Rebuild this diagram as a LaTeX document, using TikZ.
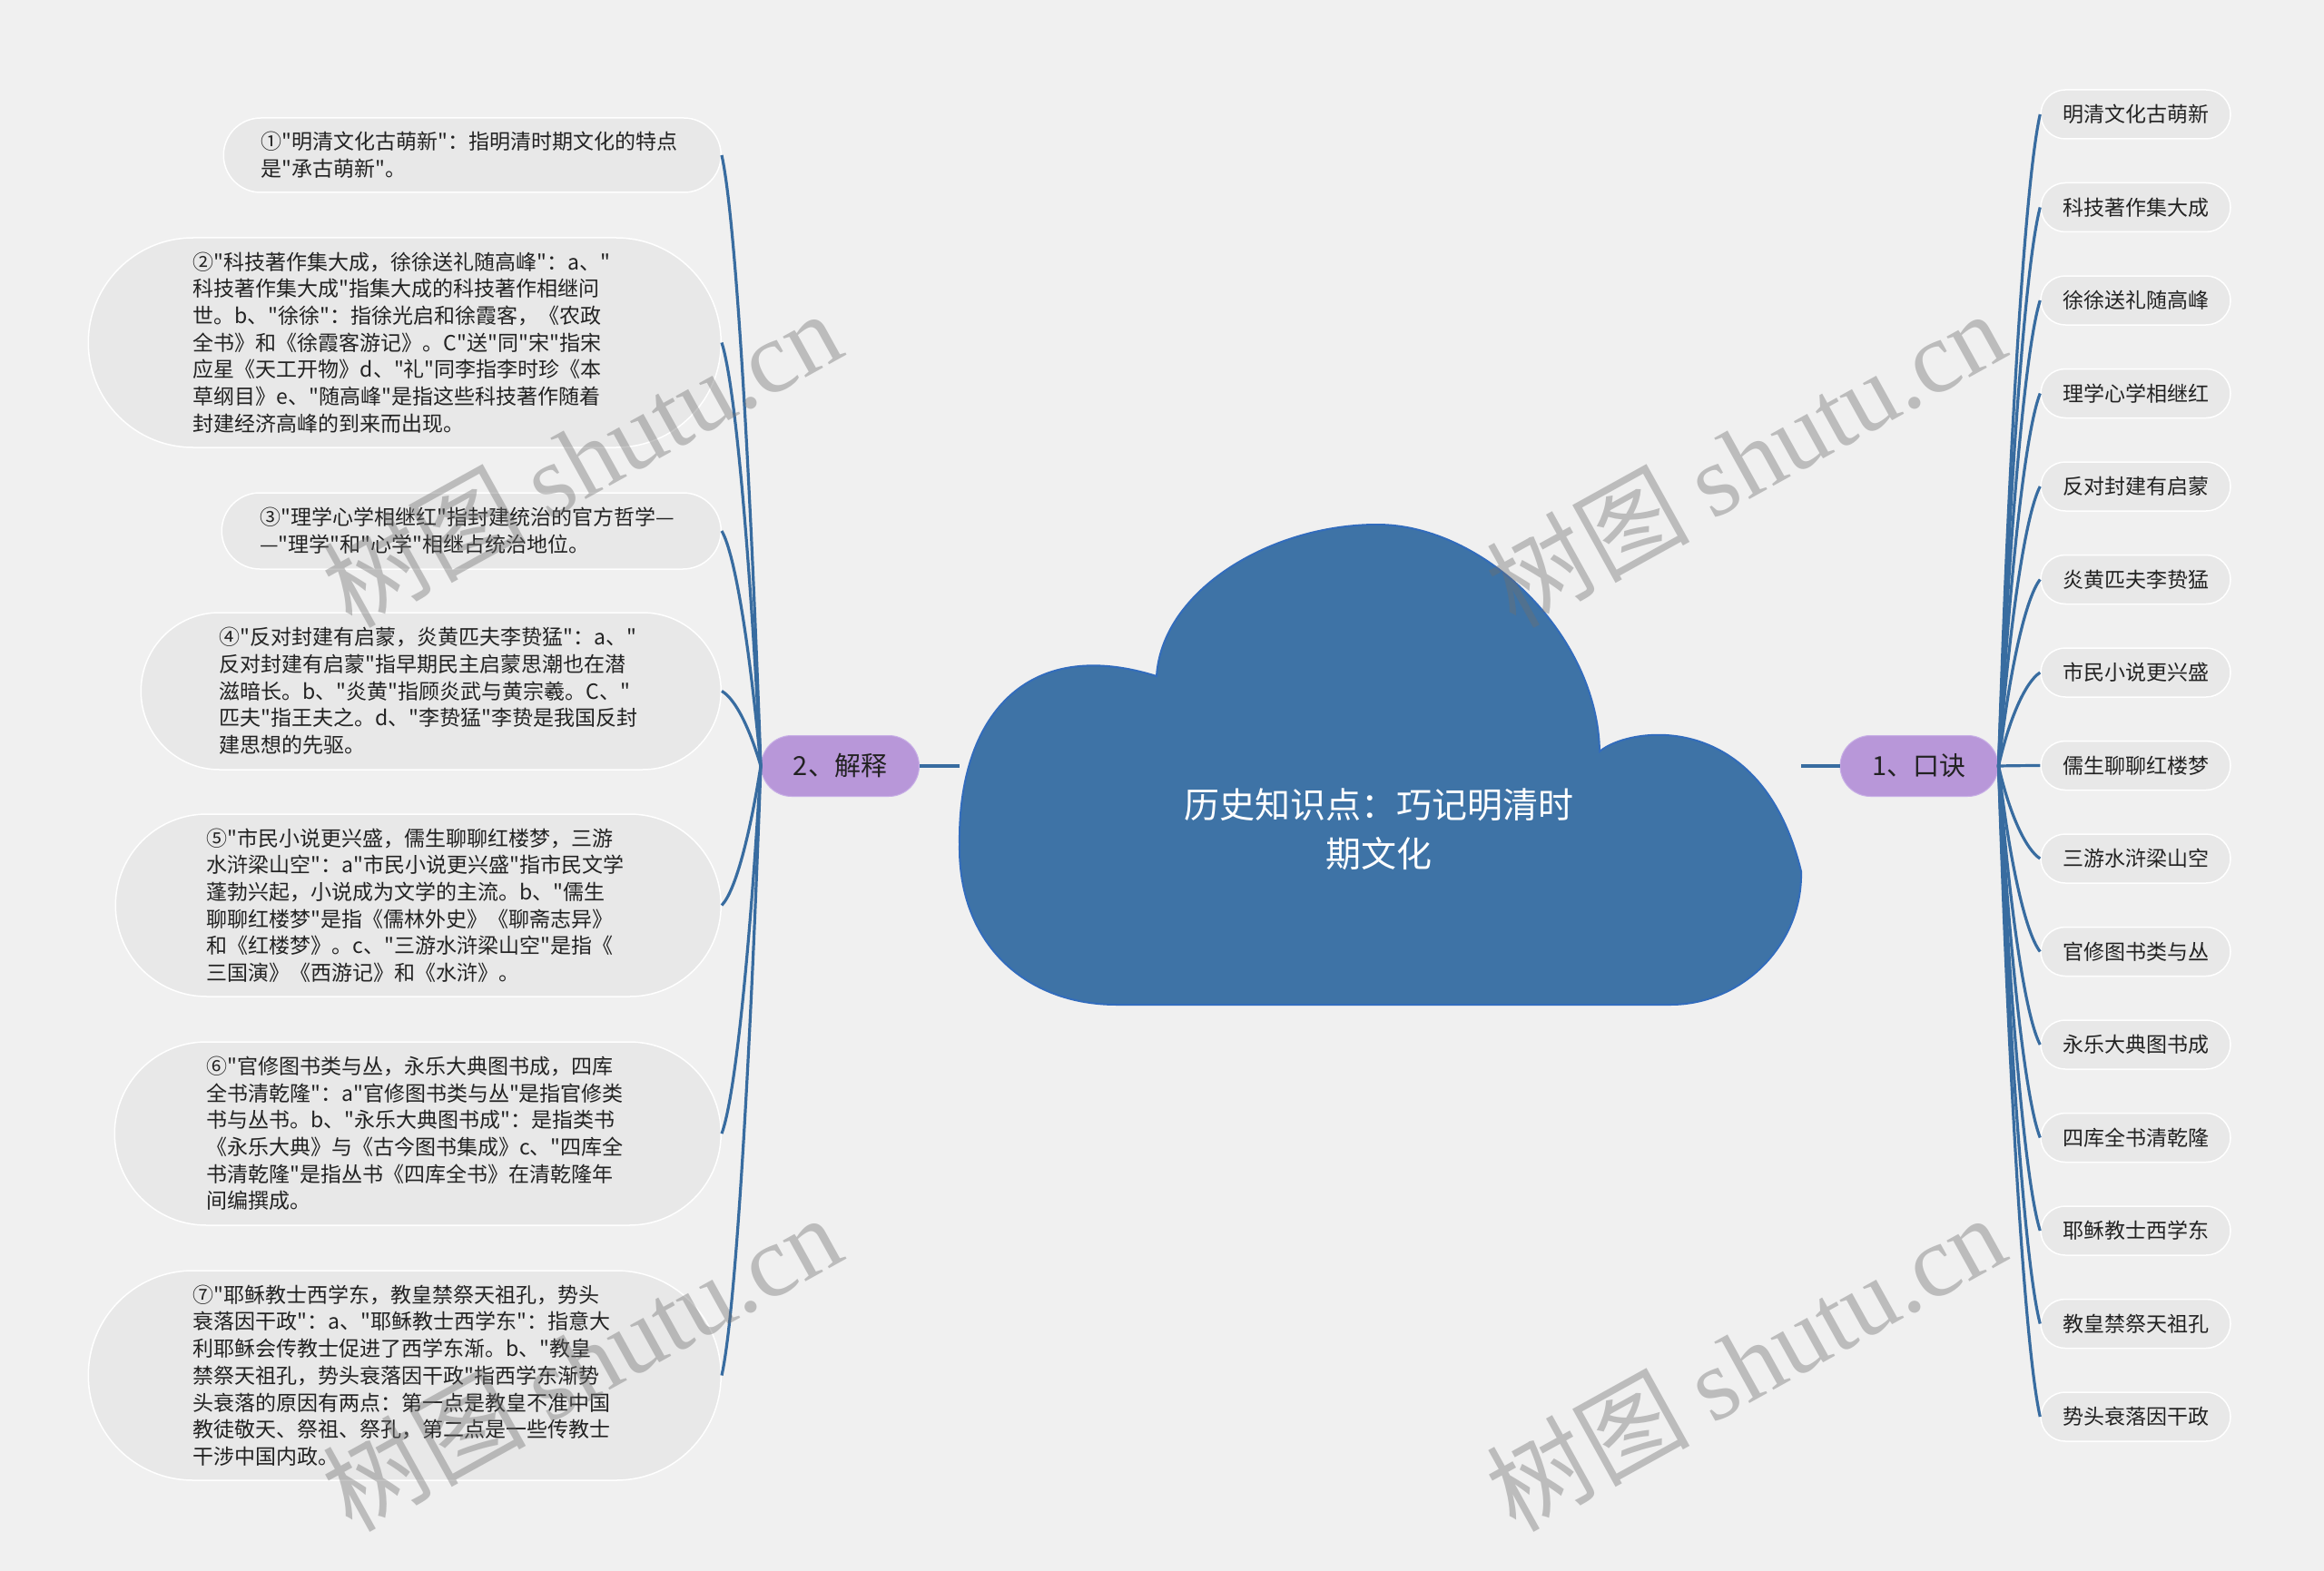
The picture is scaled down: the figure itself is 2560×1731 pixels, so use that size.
\documentclass[tikz,border=0pt]{standalone}
\usepackage{fontspec}
\setmainfont{Noto Sans CJK SC}[Ligatures=TeXOff]
\newfontfamily\wmlatin{Liberation Serif}
\usetikzlibrary{calc}
\definecolor{canvas}{RGB}{240,240,240}
\definecolor{cloudfill}{RGB}{62,115,166}
\definecolor{cloudline}{RGB}{50,108,188}
\definecolor{twigline}{RGB}{56,108,160}
\definecolor{topicfill}{RGB}{184,151,217}
\definecolor{topicline}{RGB}{200,175,230}
\definecolor{notefill}{RGB}{232,232,232}
\definecolor{ink}{RGB}{34,34,34}
\definecolor{wmgrey}{RGB}{110,110,110}
\newcommand\notefont{\fontsize{23}{29.7}\selectfont}
\newcommand\topicfont{\fontsize{29}{32}\selectfont}
\newcommand\titlefont{\fontsize{39}{54}\selectfont}
\newcommand\wmfont{\fontsize{112}{112}\selectfont}
\tikzset{
  expl/.style={draw=white, fill=notefill, line width=1.5pt, text=ink, align=left,
               text width=466pt, inner xsep=#1, inner ysep=4pt,
               minimum height=2*#1, rounded corners=#1, font=\notefont, anchor=east},
  kw/.style={draw=white, fill=notefill, line width=1.5pt, text=ink, inner sep=0pt,
             minimum width=209pt, minimum height=54pt, rounded corners=27pt, font=\notefont},
  topic/.style={draw=topicline, fill=topicfill, line width=1pt, text=ink,
                minimum width=174pt, minimum height=67pt, rounded corners=33.5pt, font=\topicfont},
  title/.style={text=white, align=center, font=\titlefont},
  twig/.style={draw=twigline, line width=3.2pt},
  stem/.style={draw=twigline, line width=4.5pt},
  wm/.style={text=wmgrey, text opacity=0.4, font=\wmfont, rotate=29},
}
\begin{document}
\begin{tikzpicture}[x=1pt, y=-1pt]
  \fill[canvas] (0,0) rectangle (2560,1731);
  \useasboundingbox (0,0) rectangle (2560,1731);

  %% central cloud
  \filldraw[fill=cloudfill, draw=cloudline, line width=2pt]
    (1230,1107) .. controls (1130,1107) and (1055,1040) .. (1057,930)
    .. controls (1055,790) and (1130,700) .. (1274,745)
    .. controls (1280,650) and (1400,578) .. (1517,578)
    .. controls (1635,578) and (1760,700) .. (1762,828)
    .. controls (1795,800) and (1940,780) .. (1984,960)
    .. controls (1986,1040) and (1920,1107) .. (1840,1107) -- cycle;
  \node[title] (root) at (1519,914) {历史知识点：巧记明清时\\期文化};
  \coordinate (cloudE) at (1984,844);
  \coordinate (cloudW) at (1057,844);

  %% the two branches
  \node[topic] (koujue) at (2114,844) {1、口诀};
  \node[topic] (jieshi) at (925.5,844) {2、解释};
  \draw[stem] (cloudE) -- (koujue.west);
  \draw[stem] (jieshi.east) -- (cloudW);

  %% right: the verse lines
  \foreach \txt [count=\i] in {明清文化古萌新,科技著作集大成,徐徐送礼随高峰,理学心学相继红,
      反对封建有启蒙,炎黄匹夫李贽猛,市民小说更兴盛,儒生聊聊红楼梦,三游水浒梁山空,
      官修图书类与丛,永乐大典图书成,四库全书清乾隆,耶稣教士西学东,教皇禁祭天祖孔,势头衰落因干政}
    \node[kw] (k\i) at (2352.5,{126+102.5*(\i-1)}) {\txt};
  \foreach \i in {1,...,15} {
    \pgfmathsetmacro\yy{126+102.5*(\i-1)}
    \draw[twig] (koujue.east) .. controls (2213,{(844+\yy)/2}) and (2231,{\yy+0.1*(844-\yy)}) .. (k\i.west);
  }

  %% left: the explanations
  \node[expl=41pt] (n1) at (795,171) {%
    ①"明清文化古萌新"：指明清时期文化的特点\\是"承古萌新"。};
  \node[expl=115.5pt] (n2) at (795,377.5) {%
    ②"科技著作集大成，徐徐送礼随高峰"：a、"\\
    科技著作集大成"指集大成的科技著作相继问\\
    世。b、"徐徐"：指徐光启和徐霞客，《农政\\
    全书》和《徐霞客游记》。C"送"同"宋"指宋\\
    应星《天工开物》d、"礼"同李指李时珍《本\\
    草纲目》e、"随高峰"是指这些科技著作随着\\
    封建经济高峰的到来而出现。};
  \node[expl=42pt] (n3) at (795,585) {%
    ③"理学心学相继红"指封建统治的官方哲学—\\—"理学"和"心学"相继占统治地位。};
  \node[expl=86.5pt] (n4) at (795,761.5) {%
    ④"反对封建有启蒙，炎黄匹夫李贽猛"：a、"\\
    反对封建有启蒙"指早期民主启蒙思潮也在潜\\
    滋暗长。b、"炎黄"指顾炎武与黄宗羲。C、"\\
    匹夫"指王夫之。d、"李贽猛"李贽是我国反封\\
    建思想的先驱。};
  \node[expl=100.5pt] (n5) at (795,997.5) {%
    ⑤"市民小说更兴盛，儒生聊聊红楼梦，三游\\
    水浒梁山空"：a"市民小说更兴盛"指市民文学\\
    蓬勃兴起，小说成为文学的主流。b、"儒生\\
    聊聊红楼梦"是指《儒林外史》《聊斋志异》\\
    和《红楼梦》。c、"三游水浒梁山空"是指《\\
    三国演》《西游记》和《水浒》。};
  \node[expl=101pt] (n6) at (795,1249) {%
    ⑥"官修图书类与丛，永乐大典图书成，四库\\
    全书清乾隆"：a"官修图书类与丛"是指官修类\\
    书与丛书。b、"永乐大典图书成"：是指类书\\
    《永乐大典》与《古今图书集成》c、"四库全\\
    书清乾隆"是指丛书《四库全书》在清乾隆年\\
    间编撰成。};
  \node[expl=115.5pt] (n7) at (795,1515.5) {%
    ⑦"耶稣教士西学东，教皇禁祭天祖孔，势头\\
    衰落因干政"：a、"耶稣教士西学东"：指意大\\
    利耶稣会传教士促进了西学东渐。b、"教皇\\
    禁祭天祖孔，势头衰落因干政"指西学东渐势\\
    头衰落的原因有两点：第一点是教皇不准中国\\
    教徒敬天、祭祖、祭孔，第二点是一些传教士\\
    干涉中国内政。};
  \foreach \i/\yy in {1/171,2/377.5,3/585,4/761.5,5/997.5,6/1249,7/1515.5}
    \draw[twig] (jieshi.west) .. controls (826,{(844+\yy)/2}) and (810,{\yy+0.1*(844-\yy)}) .. (n\i.east);

  %% watermarks
  \node[wm] (wm1) at (640,505) {树图 {\wmlatin shutu.cn}};
  \node[wm] (wm2) at (1922,505) {树图 {\wmlatin shutu.cn}};
  \node[wm] (wm3) at (640,1501) {树图 {\wmlatin shutu.cn}};
  \node[wm] (wm4) at (1922,1501) {树图 {\wmlatin shutu.cn}};
\end{tikzpicture}
\end{document}
